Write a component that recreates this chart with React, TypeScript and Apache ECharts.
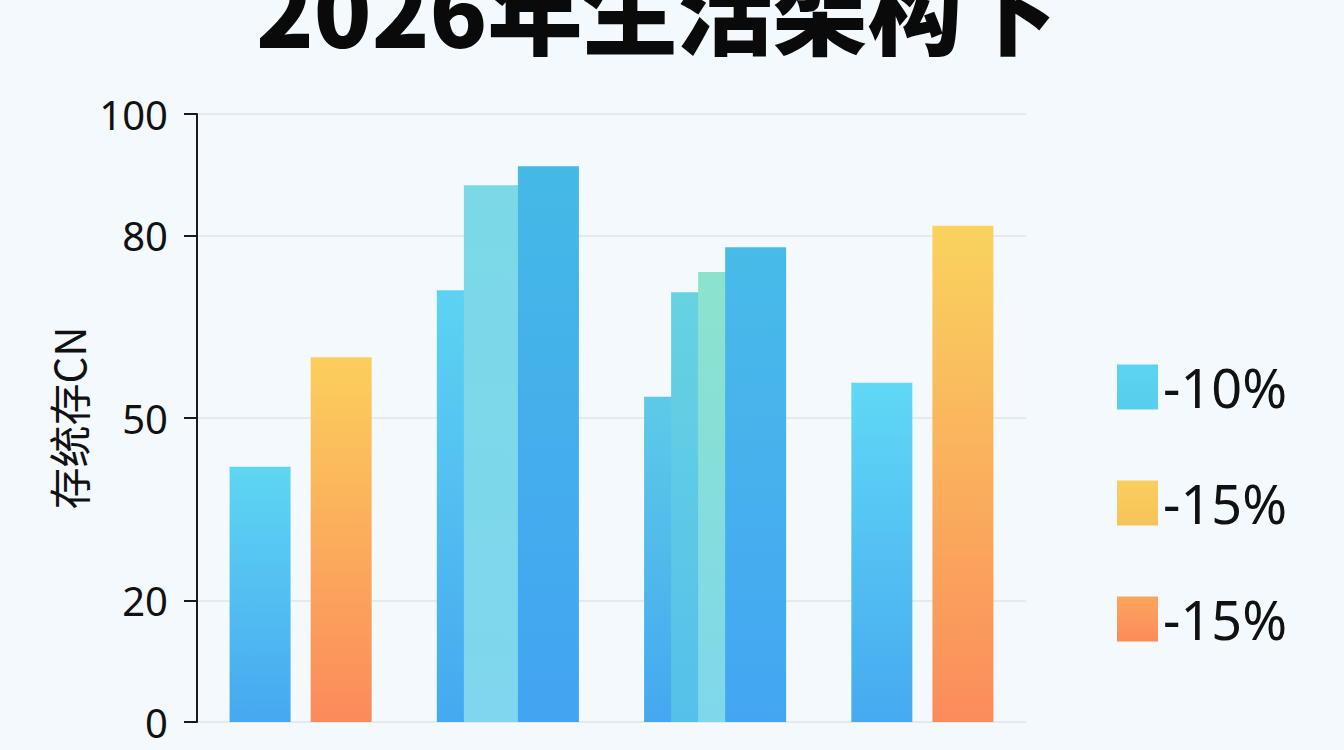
// Grafico de barras agrupadas com sobreposicao: quatro grupos, ate quatro barras por
// grupo, escala vertical com marcas em 0/20/50/80/100 e legenda a direita.
import { useEffect, useRef } from 'react'
import * as echarts from 'echarts'

const TITULO = '2026年生活架构下'
const NOME_EIXO_Y = '存统存CN'
const CATEGORIAS = ['G1', 'G2', 'G3', 'G4']
const MARCAS_Y = [0, 20, 50, 80, 100]

// uma serie por "posicao" dentro do grupo (null = sem barra naquele grupo)
const POSICAO_1 = [42, 71, 53.5, 55.8]
const POSICAO_2 = [null, 88.3, 70.7, null]
const POSICAO_3 = [null, null, 74, null]
const POSICAO_4_AZUL = [null, 91.4, 78.1, null]
const POSICAO_4_AMARELA = [null, null, null, 81.6]
const POSICAO_4_LARANJA = [60, null, null, null]

const FONTE = '"Noto Sans", "Noto Sans CJK SC", sans-serif'
const FONTE_CJK = '"Noto Sans CJK SC", sans-serif'

function degrade(topo: string, base: string) {
  return new echarts.graphic.LinearGradient(0, 0, 0, 1, [
    { offset: 0, color: topo },
    { offset: 1, color: base },
  ])
}

// cores por grupo (cada barra tem um tom levemente diferente)
const CORES_POS1 = [
  ['#5fd6f3', '#46a8f0'],
  ['#5dd3f2', '#45a9f0'],
  ['#5ccbe8', '#45a8f0'],
  ['#60d8f5', '#46aaf0'],
]
const CORES_POS2 = [
  null,
  ['#7bd9e6', '#7fd6ee'],
  ['#67d2e1', '#55c0ea'],
  null,
]
const CORES_POS3 = [null, null, ['#8ce3cc', '#7fd7ec'], null]
const CORES_POS4 = [null, ['#45b9e6', '#43a4f2'], ['#48bbe8', '#44a6f2'], null]

function comCores(valores: (number | null)[], cores: (string[] | null)[]) {
  return valores.map((v, i) => {
    const c = cores[i]
    if (v == null || !c) return v
    return { value: v, itemStyle: { color: degrade(c[0], c[1]) } }
  })
}

const LARGURA_BARRA = 61
const GAP_BARRA = '-55.7%'

export default function App() {
  const ref = useRef<HTMLDivElement>(null)

  useEffect(() => {
    document.body.style.margin = '0'
    if (!ref.current) return
    const chart = echarts.init(ref.current, undefined, { renderer: 'svg' })

    const base = {
      type: 'bar' as const,
      barWidth: LARGURA_BARRA,
      barGap: GAP_BARRA,
    }

    chart.setOption({
      animation: false,
      backgroundColor: '#f3f9fc',
      title: {
        text: TITULO,
        left: 251,
        top: -46,
        textStyle: { fontSize: 95, fontWeight: 900, fontFamily: FONTE_CJK, color: '#0a0a0a' },
      },
      legend: {
        orient: 'vertical',
        left: 1112,
        top: 355,
        itemWidth: 41,
        itemHeight: 45,
        itemGap: 62,
        icon: 'rect',
        selectedMode: false,
        data: [
          { name: '-10%', itemStyle: { color: degrade('#5cd4f1', '#58cdee') } },
          { name: '-15%', itemStyle: { color: degrade('#f9cf5d', '#f6c35a') } },
          { name: '-15% ', itemStyle: { color: degrade('#fca45c', '#fb8c5d') } },
        ],
        formatter: (nome: string) => nome.trim(),
        textStyle: { fontSize: 54, lineHeight: 45, color: '#111', fontFamily: FONTE },
      },
      grid: { left: 197, right: 318, top: 114, bottom: 28 },
      xAxis: {
        type: 'category',
        data: CATEGORIAS,
        axisLine: { show: false },
        axisTick: { show: false },
        axisLabel: { show: false },
      },
      yAxis: {
        type: 'value',
        min: 0,
        max: 100,
        name: NOME_EIXO_Y,
        nameLocation: 'middle',
        nameRotate: 90,
        nameGap: 105,
        nameTextStyle: { fontSize: 42, color: '#111', fontFamily: FONTE_CJK },
        axisLine: { show: true, lineStyle: { color: '#1a1a1a', width: 2 } },
        axisTick: { show: true, length: 13, customValues: MARCAS_Y, lineStyle: { color: '#1a1a1a', width: 2 } },
        axisLabel: { fontSize: 40, color: '#111', margin: 29, fontFamily: FONTE, customValues: MARCAS_Y },
        splitLine: { lineStyle: { color: '#dfe5ea', width: 1.5 } },
      },
      series: [
        { ...base, name: '-10%', stack: 'p1', itemStyle: { color: degrade('#5bd3f0', '#52c6ee') }, data: comCores(POSICAO_1, CORES_POS1) },
        { ...base, name: 'p2', stack: 'p2', data: comCores(POSICAO_2, CORES_POS2) },
        { ...base, name: 'p3', stack: 'p3', data: comCores(POSICAO_3, CORES_POS3) },
        { ...base, name: 'p4', stack: 'p4', data: comCores(POSICAO_4_AZUL, CORES_POS4) },
        { ...base, name: '-15%', stack: 'p4', itemStyle: { color: degrade('#f9d35e', '#fb8c5c') }, data: POSICAO_4_AMARELA },
        { ...base, name: '-15% ', stack: 'p4', itemStyle: { color: degrade('#fbcf5c', '#fb8a5c') }, data: POSICAO_4_LARANJA },
      ],
    })

    return () => chart.dispose()
  }, [])

  return <div ref={ref} style={{ width: 1344, height: 750 }} />
}
